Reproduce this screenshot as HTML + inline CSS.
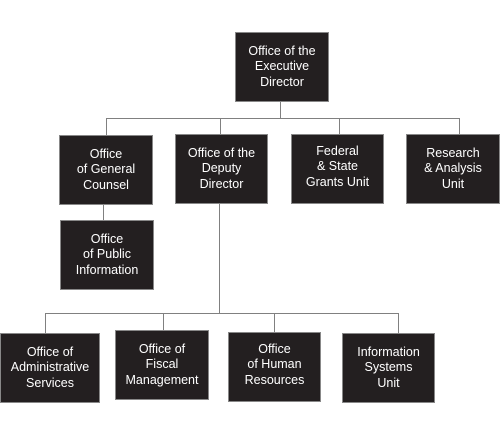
<!DOCTYPE html>
<html><head><style>
body{margin:0;width:500px;height:421px;background:#fff;position:relative;overflow:hidden;font-family:"Liberation Sans",Arial,sans-serif}
.b{position:absolute;background:#231f20;border:1px solid #888;box-sizing:border-box;color:#fff;font-size:12.5px;line-height:15.5px;text-align:center;display:flex;align-items:center;justify-content:center}
.l{position:absolute;background:#808080}
.h{height:1px}.v{width:1px}
</style></head><body>
<div class="l v" style="left:280px;top:102px;height:16px"></div>
<div class="l h" style="left:106px;top:118px;width:354px"></div>
<div class="l v" style="left:106px;top:118px;height:17px"></div>
<div class="l v" style="left:220px;top:118px;height:16px"></div>
<div class="l v" style="left:339px;top:118px;height:16px"></div>
<div class="l v" style="left:459px;top:118px;height:16px"></div>
<div class="l v" style="left:103px;top:205px;height:15px"></div>
<div class="l v" style="left:219px;top:204px;height:109px"></div>
<div class="l h" style="left:45px;top:313px;width:354px"></div>
<div class="l v" style="left:45px;top:313px;height:20px"></div>
<div class="l v" style="left:163px;top:313px;height:17px"></div>
<div class="l v" style="left:274px;top:313px;height:19px"></div>
<div class="l v" style="left:398px;top:313px;height:20px"></div>

<div class="b" style="left:235px;top:32px;width:94px;height:70px">Office of the<br>Executive<br>Director</div>
<div class="b" style="left:59px;top:135px;width:94px;height:70px">Office<br>of General<br>Counsel</div>
<div class="b" style="left:175px;top:134px;width:93px;height:70px">Office of the<br>Deputy<br>Director</div>
<div class="b" style="left:291px;top:134px;width:93px;height:70px;padding-bottom:4px">Federal<br>&amp; State<br>Grants Unit</div>
<div class="b" style="left:406px;top:134px;width:94px;height:70px">Research<br>&amp; Analysis<br>Unit</div>
<div class="b" style="left:60px;top:220px;width:94px;height:70px">Office<br>of Public<br>Information</div>
<div class="b" style="left:0px;top:333px;width:100px;height:70px">Office of<br>Administrative<br>Services</div>
<div class="b" style="left:115px;top:330px;width:94px;height:70px">Office of<br>Fiscal<br>Management</div>
<div class="b" style="left:228px;top:332px;width:93px;height:70px;padding-bottom:4px">Office<br>of Human<br>Resources</div>
<div class="b" style="left:342px;top:333px;width:93px;height:70px">Information<br>Systems<br>Unit</div>
</body></html>
